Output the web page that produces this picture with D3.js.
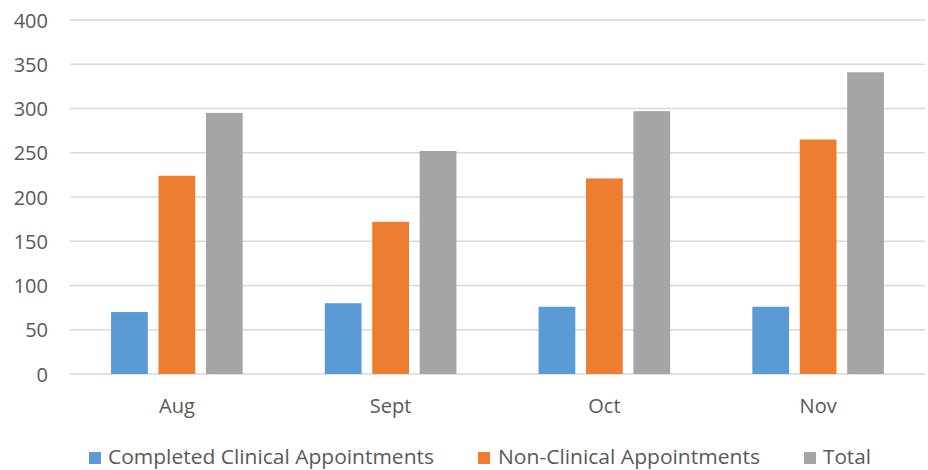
<!DOCTYPE html>
<html>
<head>
<meta charset="utf-8">
<script src="https://cdn.jsdelivr.net/npm/d3@7"></script>
<style>
  html, body { margin: 0; padding: 0; background: #fff; }
  text { font-family: "Open Sans", sans-serif; fill: #595959; }
</style>
</head>
<body>
<svg id="chart" width="928" height="470"></svg>
<script>
const categories = ["Aug", "Sept", "Oct", "Nov"];
const seriesNames = ["Completed Clinical Appointments", "Non-Clinical Appointments", "Total"];
const completedClinical = [70, 80, 76, 76];
const nonClinical = [224, 172, 221, 265];
const total = [295, 252, 297, 341];
const yTicks = [0, 50, 100, 150, 200, 250, 300, 350, 400];
const colors = ["#5B9BD5", "#ED7D31", "#A5A5A5"];

(function () {
const seriesValues = [completedClinical, nonClinical, total];
const svg = d3.select("#chart");

const plotLeft = 70, plotRight = 925, plotTop = 20, plotBottom = 374;
const x = d3.scaleBand().domain(categories).range([plotLeft, plotRight]).padding(0);
const xInner = d3.scaleBand().domain(seriesNames).range([0, x.bandwidth()])
  .paddingInner(0.225).paddingOuter(0.866);
const y = d3.scaleLinear().domain([0, 400]).range([plotBottom, plotTop]);

// gridlines
svg.append("g").selectAll("line").data(yTicks).join("line")
  .attr("x1", plotLeft).attr("x2", plotRight)
  .attr("y1", d => y(d)).attr("y2", d => y(d))
  .attr("stroke", "#d9d9d9").attr("stroke-width", 1.5);

// y axis labels
const yAxis = d3.axisLeft(y).tickValues(yTicks).tickSize(0).tickPadding(0);
const yg = svg.append("g").attr("transform", "translate(48,0)").call(yAxis);
yg.select(".domain").remove();
yg.selectAll("text").attr("font-size", 20).attr("dy", "0.36em")
  .style("font-family", "'Open Sans', sans-serif").attr("fill", "#595959");

// bars
const data = [];
categories.forEach((c, i) => seriesNames.forEach((s, j) => data.push({ c, s, j, v: seriesValues[j][i] })));
svg.append("g").selectAll("rect").data(data).join("rect")
  .attr("x", d => x(d.c) + xInner(d.s))
  .attr("width", xInner.bandwidth())
  .attr("y", d => y(d.v))
  .attr("height", d => y(0) - y(d.v))
  .attr("fill", d => colors[d.j]);

// x axis labels
const xAxis = d3.axisBottom(x).tickSize(0).tickPadding(0);
const xg = svg.append("g").attr("transform", `translate(0,${plotBottom})`).call(xAxis);
xg.select(".domain").remove();
xg.selectAll("text").attr("font-size", 20).attr("dy", 0).attr("y", 39)
  .style("font-family", "'Open Sans', sans-serif").attr("fill", "#595959");

// legend
const legendPos = [{ sq: 89, tx: 108, w: 326 }, { sq: 478, tx: 498, w: 262 }, { sq: 804, tx: 823, w: 48 }];
const lg = svg.append("g");
seriesNames.forEach((s, j) => {
  lg.append("rect").attr("x", legendPos[j].sq).attr("y", 452).attr("width", 12).attr("height", 12)
    .attr("fill", colors[j]);
  lg.append("text").attr("x", legendPos[j].tx).attr("y", 464)
    .attr("font-size", 19.5).attr("textLength", legendPos[j].w).attr("lengthAdjust", "spacingAndGlyphs")
    .text(s);
});
})();
</script>
</body>
</html>
